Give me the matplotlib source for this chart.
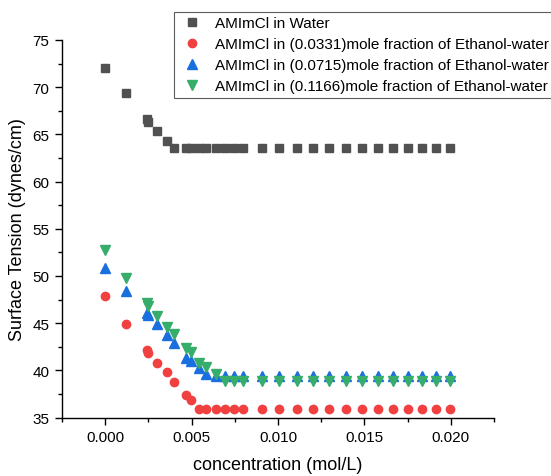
import matplotlib
matplotlib.use("Agg")
import matplotlib.pyplot as plt
from matplotlib.ticker import MultipleLocator

plt.rcParams['font.family'] = ['Liberation Sans', 'DejaVu Sans']

conc = [0, 0.00122, 0.0024, 0.0025, 0.003, 0.00355, 0.004, 0.0047, 0.00496,
        0.00544, 0.00586, 0.00644, 0.00696, 0.00747, 0.008, 0.00906, 0.01007,
        0.01108, 0.01205, 0.01298, 0.01395, 0.01487, 0.01577, 0.01664, 0.0175,
        0.01833, 0.01914, 0.01996]

water = [72.0, 69.4, 66.6, 66.3, 65.4, 64.3, 63.6] + [63.6] * 21
eth_0331 = [47.9, 44.9, 42.1, 41.8, 40.8, 39.8, 38.8, 37.4, 36.9] + [35.9] * 19
eth_0715 = [50.8, 48.4, 46.1, 45.9, 44.9, 43.7, 42.9, 41.3, 41.0, 40.2, 39.6] + [39.4] * 17
eth_1166 = [52.8, 49.8, 47.1, 46.8, 45.8, 44.6, 43.9, 42.4, 41.9, 40.8, 40.3, 39.6] + [38.9] * 16

labels = ["AMImCl in Water",
          "AMImCl in (0.0331)mole fraction of Ethanol-water",
          "AMImCl in (0.0715)mole fraction of Ethanol-water",
          "AMImCl in (0.1166)mole fraction of Ethanol-water"]

fig = plt.figure(figsize=(5.51, 4.77), dpi=100)
ax = fig.add_axes([62/551, 1 - 418.5/477, (494-62)/551, (418.5-41)/477])

ax.plot(conc, water, 's', color='#515151', ms=5.8, label=labels[0])
ax.plot(conc, eth_0331, 'o', color='#F14040', ms=6, label=labels[1])
ax.plot(conc, eth_0715, '^', color='#1A6FDF', ms=7, label=labels[2])
ax.plot(conc, eth_1166, 'v', color='#37AD6B', ms=7, label=labels[3])

ax.set_xlim(-0.0025, 0.0225)
ax.set_ylim(35, 75)
ax.xaxis.set_major_locator(MultipleLocator(0.005))
ax.xaxis.set_minor_locator(MultipleLocator(0.0025))
ax.yaxis.set_major_locator(MultipleLocator(5))
ax.yaxis.set_minor_locator(MultipleLocator(2.5))
ax.xaxis.set_major_formatter(matplotlib.ticker.FormatStrFormatter('%.3f'))

for s in ['top', 'right']:
    ax.spines[s].set_visible(False)
for s in ['left', 'bottom']:
    ax.spines[s].set_linewidth(1.0)
    ax.spines[s].set_color('black')
ax.tick_params(which='major', direction='out', length=5, width=1, labelsize=11, pad=4)
ax.tick_params(which='minor', direction='out', length=3, width=1)

ax.set_xlabel('concentration (mol/L)', fontsize=13, labelpad=9)
ax.set_ylabel('Surface Tension (dynes/cm)', fontsize=13, labelpad=5)

leg = fig.legend(loc='upper left', bbox_to_anchor=(174/551, 1 - 13/477),
                 bbox_transform=fig.transFigure, fontsize=11, frameon=True,
                 fancybox=False, edgecolor='#333333', borderpad=0.28,
                 labelspacing=0.46, handletextpad=0.6, handlelength=1.8,
                 borderaxespad=0)
leg.get_frame().set_linewidth(0.8)

fig.savefig('out.png', dpi=100)
